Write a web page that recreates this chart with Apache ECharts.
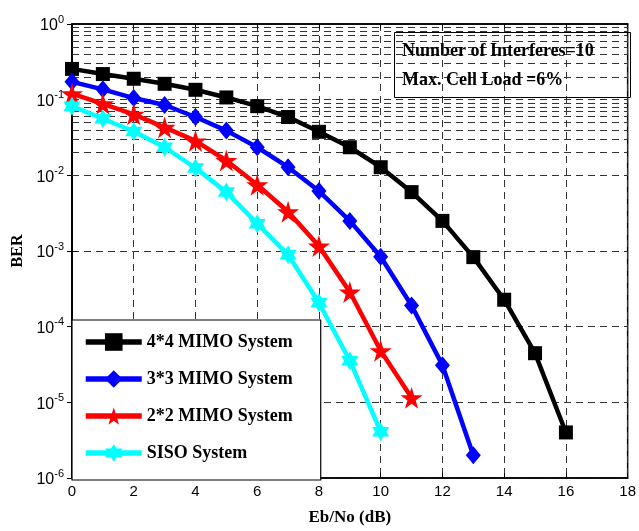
<!DOCTYPE html>
<html>
<head>
<meta charset="utf-8">
<script src="https://cdn.jsdelivr.net/npm/echarts@6/dist/echarts.min.js"></script>
<style>
  html, body { margin: 0; padding: 0; background: #fff; }
  #chart { width: 639px; height: 531px; }
</style>
</head>
<body>
<div id="chart"></div>
<script>
  // Eb/No (dB) steps
  const ebNo = [0, 1, 2, 3, 4, 5, 6, 7, 8, 9, 10, 11, 12, 13, 14, 15, 16]
  const xTicks = [0, 2, 4, 6, 8, 10, 12, 14, 16, 18]
  const yDecades = [-6, -5, -4, -3, -2, -1, 0]

  // BER
  const ber4x4 = [0.255, 0.218, 0.189, 0.162, 0.135, 0.107, 0.082, 0.059, 0.0376, 0.0235, 0.0128, 0.006, 0.0025, 8.3e-4, 2.27e-4, 4.46e-5, 4e-6]
  const ber3x3 = [0.172, 0.137, 0.105, 0.085, 0.059, 0.039, 0.0235, 0.0128, 0.0062, 0.0025, 8.4e-4, 1.9e-4, 3.1e-5, 2e-6]
  const ber2x2 = [0.12, 0.088, 0.064, 0.043, 0.0285, 0.0157, 0.0075, 0.0033, 0.00116, 2.87e-4, 4.8e-5, 1.15e-5]
  const berSiso = [0.082, 0.056, 0.038, 0.0235, 0.0125, 0.006, 0.0023, 8.9e-4, 2.07e-4, 3.55e-5, 4.1e-6]

  const seriesNames = ['4*4 MIMO System', '3*3 MIMO System', '2*2 MIMO System', 'SISO System']
  const noteLines = ['Number of Interferes=10', 'Max. Cell Load =6%']

  const STAR5 = 'path://M50,0 L61,35 L98,35 L68,57 L79,91 L50,70 L21,91 L32,57 L2,35 L39,35 Z'
  const STAR6 = 'path://M50,0 L64,25 L93,25 L79,50 L93,75 L64,75 L50,100 L36,75 L7,75 L21,50 L7,25 L36,25 Z'
  const SERIF = '"Liberation Serif", "Times New Roman", serif'
  const SANS = '"Liberation Sans", Arial, sans-serif'
  const GRID_LINE = { color: '#333', width: 1, type: [7, 5] }

  function pairs(ys) {
    return ys.map((y, i) => [ebNo[i], y])
  }

  // minor log gridlines 2..9 per decade
  const minorLines = []
  yDecades.slice(0, -1).forEach(k => {
    for (let m = 2; m <= 9; m++) {
      minorLines.push({ yAxis: m * Math.pow(10, k) })
    }
  })

  function makeLine(name, data, color, symbol, size) {
    return {
      name: name,
      type: 'line',
      data: pairs(data),
      symbol: symbol,
      symbolSize: size,
      showSymbol: true,
      animation: false,
      lineStyle: { color: color, width: 4.5 },
      itemStyle: { color: color, borderColor: color, borderWidth: 0 },
      z: 5
    }
  }

  const chart = echarts.init(document.getElementById('chart'))
  chart.setOption({
    backgroundColor: '#fff',
    animation: false,
    grid: {
      left: 72,
      right: 9,
      top: 24,
      bottom: 49,
      show: true,
      borderColor: '#000',
      borderWidth: 1.5,
      backgroundColor: 'transparent'
    },
    legend: {
      orient: 'vertical',
      left: 72,
      top: 320,
      padding: [13, 28, 18, 11],
      itemWidth: 56,
      itemHeight: 22,
      itemGap: 19,
      backgroundColor: '#fff',
      borderColor: '#000',
      borderWidth: 1.2,
      data: seriesNames,
      lineStyle: { width: 5.5 },
      textStyle: { fontFamily: SERIF, fontWeight: 'bold', fontSize: 18, color: '#000' }
    },
    xAxis: [
      {
        type: 'value',
        min: 0,
        max: 18,
        interval: 2,
        name: 'Eb/No (dB)',
        nameLocation: 'middle',
        nameGap: 31,
        nameTextStyle: { fontFamily: SERIF, fontWeight: 'bold', fontSize: 17, color: '#000' },
        axisLine: { show: true, lineStyle: { color: '#000', width: 1.5 } },
        axisTick: { inside: true, length: 5, lineStyle: { color: '#000' } },
        axisLabel: {
          color: '#000', fontFamily: SANS, fontSize: 15, margin: 6,
          customValues: xTicks
        },
        splitLine: { show: true, lineStyle: GRID_LINE }
      },
      {
        type: 'value',
        position: 'top',
        min: 0,
        max: 18,
        interval: 2,
        axisLine: { show: true, lineStyle: { color: '#000', width: 1.5 } },
        axisTick: { inside: true, length: 5, lineStyle: { color: '#000' } },
        axisLabel: { show: false },
        splitLine: { show: false }
      }
    ],
    yAxis: [
      {
        type: 'log',
        logBase: 10,
        min: 1e-6,
        max: 1,
        name: 'BER',
        nameLocation: 'middle',
        nameGap: 46,
        nameRotate: 90,
        nameTextStyle: { fontFamily: SERIF, fontWeight: 'bold', fontSize: 16, color: '#000' },
        axisLine: { show: true, lineStyle: { color: '#000', width: 1.5 } },
        axisTick: { inside: true, length: 5, lineStyle: { color: '#000' } },
        axisLabel: {
          color: '#000',
          margin: 8,
          formatter: function (v) {
            const e = Math.round(Math.log10(v))
            return '{b|10}{s|' + e + '}'
          },
          rich: {
            b: { fontFamily: SANS, fontSize: 16, color: '#000', verticalAlign: 'bottom', lineHeight: 20 },
            s: { fontFamily: SANS, fontSize: 11, color: '#000', verticalAlign: 'top', lineHeight: 20, padding: [0, 0, 10, 0] }
          }
        },
        splitLine: { show: true, lineStyle: GRID_LINE }
      },
      {
        type: 'log',
        logBase: 10,
        min: 1e-6,
        max: 1,
        position: 'right',
        axisLine: { show: true, lineStyle: { color: '#000', width: 1.5 } },
        axisTick: { inside: true, length: 5, lineStyle: { color: '#000' } },
        axisLabel: { show: false },
        splitLine: { show: false }
      }
    ],
    series: [
      {
        name: 'minor-grid',
        type: 'line',
        data: [],
        silent: true,
        z: 1,
        markLine: {
          silent: true,
          symbol: ['none', 'none'],
          label: { show: false },
          lineStyle: GRID_LINE,
          animation: false,
          data: minorLines
        }
      },
      makeLine(seriesNames[0], ber4x4, '#000000', 'rect', 14),
      makeLine(seriesNames[1], ber3x3, '#0000ff', 'diamond', [15, 18]),
      makeLine(seriesNames[2], ber2x2, '#ff0000', STAR5, 22),
      makeLine(seriesNames[3], berSiso, '#00ffff', STAR6, [17, 19])
    ],
    graphic: [
      {
        type: 'rect',
        left: 394,
        top: 32,
        shape: { width: 236, height: 65 },
        style: { fill: 'transparent', stroke: '#000', lineWidth: 1 },
        z: 10
      },
      {
        type: 'text',
        left: 402,
        top: 42,
        style: { text: noteLines[0], fill: '#000', font: 'bold 18px ' + SERIF },
        z: 10
      },
      {
        type: 'text',
        left: 402,
        top: 71,
        style: { text: noteLines[1], fill: '#000', font: 'bold 18px ' + SERIF },
        z: 10
      }
    ]
  })
</script>
</body>
</html>
